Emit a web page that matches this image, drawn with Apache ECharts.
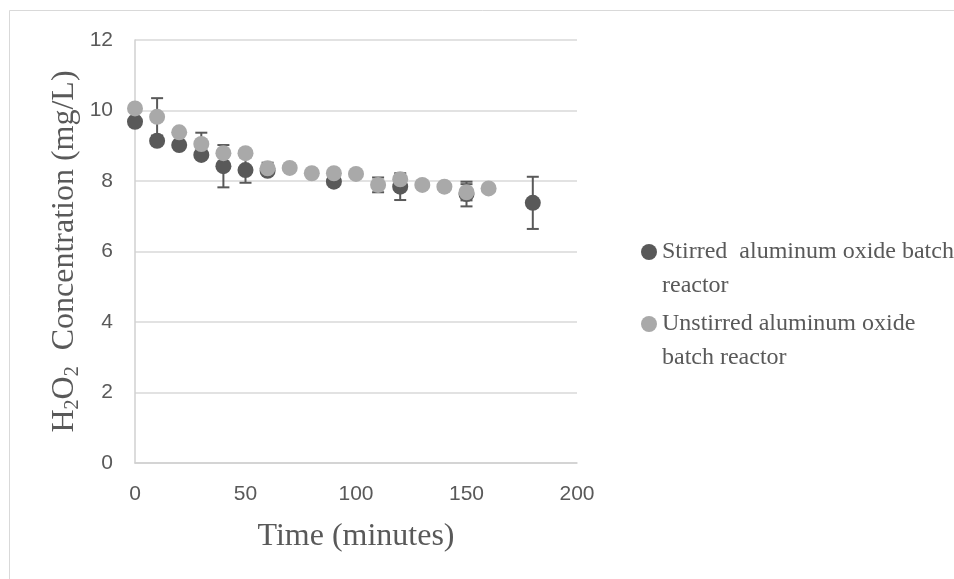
<!DOCTYPE html>
<html>
<head>
<meta charset="utf-8">
<script src="https://cdn.jsdelivr.net/npm/echarts@6/dist/echarts.min.js"></script>
<style>html,body{margin:0;padding:0;background:#fff;}#c{width:954px;height:579px;}</style>
</head>
<body>
<div id="c"></div>
<script>
// ---- data ----
const stirredTimes = [0, 10, 20, 30, 40, 50, 60, 90, 120, 150, 180];
const stirredValues = [9.68, 9.14, 9.02, 8.74, 8.42, 8.31, 8.29, 7.98, 7.84, 7.63, 7.38];
const stirredErrors = [0, 0, 0, 0, 0.6, 0.36, 0, 0, 0.38, 0.35, 0.74];

const unstirredTimes = [0, 10, 20, 30, 40, 50, 60, 70, 80, 90, 100, 110, 120, 130, 140, 150, 160];
const unstirredValues = [10.06, 9.82, 9.38, 9.05, 8.79, 8.79, 8.36, 8.37, 8.22, 8.22, 8.2, 7.89, 8.05, 7.89, 7.84, 7.68, 7.79];
const unstirredErrors = [0, 0.53, 0, 0.32, 0, 0, 0.16, 0, 0, 0, 0, 0.21, 0, 0, 0, 0.23, 0];

const seriesNames = ['Stirred  aluminum oxide batch reactor', 'Unstirred aluminum oxide batch reactor'];
const legendLabels = ['Stirred  aluminum oxide batch\nreactor', 'Unstirred aluminum oxide\nbatch reactor'];
const xTitle = 'Time (minutes)';

// ---- build ----
const serif = "'Liberation Serif', 'Times New Roman', serif";
const sans = "'Liberation Sans', Arial, sans-serif";
const txt = '#595959';

function pts(t, v) { return t.map((x, i) => [x, v[i]]); }
function errs(t, v, e) {
  const out = [];
  t.forEach((x, i) => { if (e[i] > 0) out.push([x, v[i] - e[i], v[i] + e[i]]); });
  return out;
}
const errData = errs(stirredTimes, stirredValues, stirredErrors)
  .concat(errs(unstirredTimes, unstirredValues, unstirredErrors));

function renderErr(params, api) {
  const x = api.value(0);
  const lo = api.coord([x, api.value(1)]);
  const hi = api.coord([x, api.value(2)]);
  const w = 6;
  const st = { stroke: '#595959', lineWidth: 2 };
  return {
    type: 'group',
    children: [
      { type: 'line', shape: { x1: hi[0], y1: hi[1], x2: lo[0], y2: lo[1] }, style: st },
      { type: 'line', shape: { x1: hi[0] - w, y1: hi[1], x2: hi[0] + w, y2: hi[1] }, style: st },
      { type: 'line', shape: { x1: lo[0] - w, y1: lo[1], x2: lo[0] + w, y2: lo[1] }, style: st }
    ]
  };
}

const chart = echarts.init(document.getElementById('c'), null, { renderer: 'canvas' });
const legendBase = {
  orient: 'vertical',
  left: 636,
  icon: 'circle',
  itemWidth: 16,
  itemHeight: 16,
  selectedMode: false,
  formatter: n => '\n' + legendLabels[seriesNames.indexOf(n)],
  textStyle: { fontFamily: serif, fontSize: 24, lineHeight: 34, color: txt }
};
chart.setOption({
  animation: false,
  backgroundColor: '#fff',
  graphic: [{
    type: 'rect', silent: true, z: -10,
    shape: { x: 9.5, y: 10.5, width: 1100, height: 1000 },
    style: { fill: 'none', stroke: '#d9d9d9', lineWidth: 1 }
  }],
  grid: { left: 135, right: 377, top: 40, bottom: 116 },
  legend: [
    Object.assign({}, legendBase, { top: 196, data: [seriesNames[0]] }),
    Object.assign({}, legendBase, { top: 268, data: [seriesNames[1]] })
  ],
  xAxis: {
    type: 'value', min: 0, max: 200, interval: 50,
    name: xTitle, nameLocation: 'middle', nameGap: 58,
    nameTextStyle: { fontFamily: serif, fontSize: 32, color: txt },
    axisLine: { show: true, lineStyle: { color: '#d0d0d0', width: 1.5 } },
    axisTick: { show: false },
    splitLine: { show: false },
    axisLabel: { fontFamily: sans, fontSize: 21, color: txt, margin: 21 }
  },
  yAxis: {
    type: 'value', min: 0, max: 12, interval: 2,
    name: '{t|H}{s|2}{t|O}{s|2}{t|  Concentration (mg/L)}',
    nameLocation: 'middle', nameGap: 52, nameRotate: 90,
    nameTextStyle: {
      fontFamily: serif, fontSize: 32, color: txt,
      rich: {
        t: { fontFamily: serif, fontSize: 32, color: txt, lineHeight: 36 },
        s: { fontFamily: serif, fontSize: 20, color: txt, lineHeight: 36, verticalAlign: 'bottom' }
      }
    },
    axisLine: { show: true, lineStyle: { color: '#d0d0d0', width: 1.5 } },
    axisTick: { show: false },
    splitLine: { lineStyle: { color: '#d9d9d9', width: 1.5 } },
    axisLabel: { fontFamily: sans, fontSize: 21, color: txt, margin: 22 }
  },
  series: [
    {
      type: 'custom', name: 'errors', renderItem: renderErr, data: errData, z: 1,
      encode: { x: 0, y: [1, 2] }, silent: true
    },
    {
      type: 'scatter', name: seriesNames[0], data: pts(stirredTimes, stirredValues),
      symbol: 'circle', symbolSize: 16, itemStyle: { color: '#595959', opacity: 1 }, z: 2
    },
    {
      type: 'scatter', name: seriesNames[1], data: pts(unstirredTimes, unstirredValues),
      symbol: 'circle', symbolSize: 16, itemStyle: { color: '#a9a9a9', opacity: 1 }, z: 3
    }
  ]
});
</script>
</body>
</html>
